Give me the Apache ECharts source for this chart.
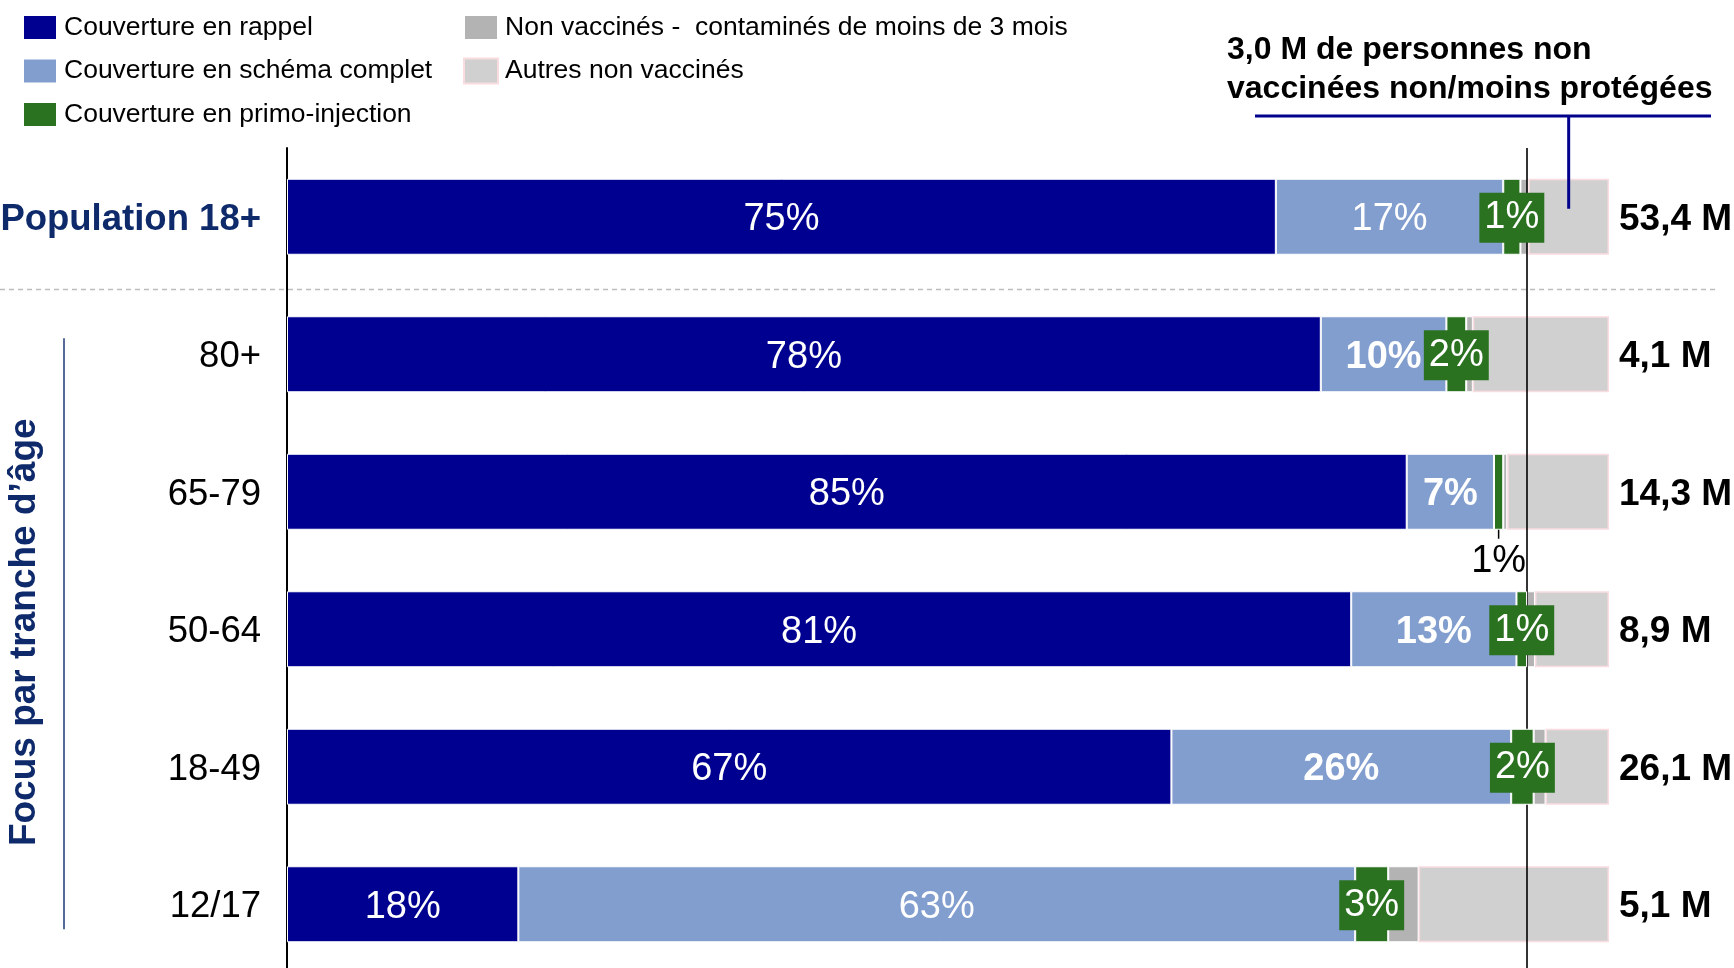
<!DOCTYPE html>
<html>
<head>
<meta charset="utf-8">
<script src="https://cdn.jsdelivr.net/npm/echarts@6/dist/echarts.min.js"></script>
<style>
html,body{margin:0;padding:0;background:#fff;}
#chart{width:1734px;height:968px;}
</style>
</head>
<body>
<div id="chart"></div>
<script>
// ---- data ----
var categories = ['Population 18+', '80+', '65-79', '50-64', '18-49', '12/17'];
var totals = ['53,4 M', '4,1 M', '14,3 M', '8,9 M', '26,1 M', '5,1 M'];
var rappel = [74.8, 78.2, 84.7, 80.5, 66.9, 17.5];
var schema = [17.2, 9.5, 6.6, 12.5, 25.7, 63.3];
var primo = [1.3, 1.5, 0.7, 0.8, 1.7, 2.5];
var contamines = [0.6, 0.5, 0.3, 0.6, 0.9, 2.3];
var autres = [6.1, 10.3, 7.7, 5.6, 4.8, 14.4];
var rappelLabels = ['75%', '78%', '85%', '81%', '67%', '18%'];
var schemaLabels = ['17%', '10%', '7%', '13%', '26%', '63%'];
var schemaBold = [false, true, true, true, true, false];
var primoLabels = ['1%', '2%', '1%', '1%', '2%', '3%'];
var primoBelow = [false, false, true, false, false, false];
var thresholdLine = 93.8;
var seriesNames = ['Couverture en rappel', 'Couverture en schéma complet', 'Couverture en primo-injection',
  'Non vaccinés -  contaminés de moins de 3 mois', 'Autres non vaccinés'];

var FONT = '"Liberation Sans", Arial, sans-serif';
var NAVY = '#000090', LBLUE = '#829ECE', GREEN = '#2B7220', DGRAY = '#B3B3B3', LGRAY = '#D0D0D0';
var BARW = 76;
var TXT_DY = 3;

var chart = echarts.init(document.getElementById('chart'));

function mk(arr, fn) { return arr.map(function (v, i) { return fn(v, i); }); }

var legendText = { fontSize: 26.5, color: '#000', fontFamily: FONT, padding: [3, 0, 0, 2] };
var option = {
  animation: false,
  backgroundColor: '#fff',
  textStyle: { fontFamily: FONT },
  legend: [{
    left: 22, top: 14, orient: 'vertical', itemWidth: 34, itemHeight: 25, itemGap: 16.5, padding: 0,
    icon: 'rect', selectedMode: false,
    data: seriesNames.slice(0, 3), textStyle: legendText
  }, {
    left: 463, top: 14, orient: 'vertical', itemWidth: 34, itemHeight: 25, itemGap: 16.5, padding: 0,
    icon: 'rect', selectedMode: false,
    data: seriesNames.slice(3), textStyle: legendText
  }],
  grid: { left: 287, right: 125, top: 148, height: 825, containLabel: false, outerBoundsMode: 'none' },
  xAxis: { type: 'value', min: 0, max: 100, show: false },
  yAxis: {
    type: 'category', inverse: true, data: categories,
    axisLine: { show: true, lineStyle: { color: '#000', width: 2 } },
    axisTick: { show: false },
    axisLabel: {
      margin: 26, fontSize: 36.5, color: '#000', fontFamily: FONT, padding: [TXT_DY * 2, 0, 0, 0],
      formatter: function (v, i) { return i === 0 ? '{b|' + v + '}' : v; },
      rich: { b: { fontSize: 36.5, fontWeight: 'bold', color: '#0E2A6B', fontFamily: FONT } }
    },
    splitLine: { show: false }
  },
  series: [{
    name: seriesNames[0], type: 'bar', stack: 's', barWidth: BARW,
    itemStyle: { color: NAVY, borderColor: '#fff', borderWidth: 1 },
    label: { show: true, position: 'inside', offset: [0, TXT_DY], color: '#fff', fontSize: 38, fontFamily: FONT,
      formatter: function (p) { return rappelLabels[p.dataIndex]; } },
    data: rappel
  }, {
    name: seriesNames[1], type: 'bar', stack: 's', barWidth: BARW,
    itemStyle: { color: LBLUE, borderColor: '#fff', borderWidth: 1 },
    label: { show: true, position: 'inside', offset: [0, TXT_DY], color: '#fff', fontSize: 38, fontFamily: FONT,
      formatter: function (p) { return schemaLabels[p.dataIndex]; } },
    data: mk(schema, function (v, i) {
      return { value: v, label: { fontWeight: schemaBold[i] ? 'bold' : 'normal' } };
    })
  }, {
    name: seriesNames[2], type: 'bar', stack: 's', barWidth: BARW, z: 5,
    itemStyle: { color: GREEN, borderColor: '#fff', borderWidth: 1 },
    label: { show: true, position: 'inside', offset: [0, 1], color: '#fff', fontSize: 38, fontFamily: FONT,
      backgroundColor: GREEN, padding: [8, 5, 4, 5],
      formatter: function (p) { return primoLabels[p.dataIndex]; } },
    data: mk(primo, function (v, i) {
      if (primoBelow[i]) {
        return { value: v, label: { position: 'bottom', distance: 13, offset: [0, 0], color: '#000', backgroundColor: 'transparent', padding: 0 } };
      }
      return v;
    })
  }, {
    name: seriesNames[3], type: 'bar', stack: 's', barWidth: BARW,
    itemStyle: { color: DGRAY, borderColor: '#fff', borderWidth: 1 },
    data: contamines
  }, {
    name: seriesNames[4], type: 'bar', stack: 's', barWidth: BARW,
    itemStyle: { color: LGRAY, borderColor: '#F9DCE0', borderWidth: 1.5 },
    label: { show: true, position: 'right', distance: 10, offset: [0, TXT_DY], color: '#000', fontSize: 37, fontWeight: 'bold', fontFamily: FONT,
      formatter: function (p) { return totals[p.dataIndex]; } },
    markLine: {
      silent: true, symbol: ['none', 'none'], label: { show: false },
      lineStyle: { color: '#000', width: 1.6, type: 'solid' },
      data: [{ xAxis: thresholdLine }]
    },
    data: autres
  }]
};
chart.setOption(option);

// ---- annotations positioned through the chart's scales ----
function px(x, yi) { return chart.convertToPixel({ gridIndex: 0 }, [x, yi]); }
var row0 = px(0, 0), row1 = px(0, 1), rowLast = px(0, categories.length - 1);
var sepY = (row0[1] + row1[1]) / 2 + 4;
var cum0 = rappel[0] + schema[0] + primo[0] + contamines[0];
var bracketX = px(cum0 + autres[0] / 2, 0)[0];
var g = [];
g.push({ type: 'line', shape: { x1: 0, y1: sepY, x2: 1716, y2: sepY }, style: { stroke: '#BDBDBD', lineWidth: 1.5, lineDash: [5, 4] } });
g.push({ type: 'line', shape: { x1: 1255, y1: 116, x2: 1711, y2: 116 }, style: { stroke: '#00008B', lineWidth: 3 } });
g.push({ type: 'line', shape: { x1: bracketX, y1: 116, x2: bracketX, y2: row0[1] - 8 }, style: { stroke: '#00008B', lineWidth: 3 }, z: 10 });
g.push({ type: 'text', left: 1227, top: 31, style: { text: '3,0 M de personnes non\nvaccinées non/moins protégées', font: 'bold 32px ' + FONT, fill: '#000', lineHeight: 39 } });
g.push({ type: 'line', shape: { x1: 64, y1: row1[1] - 16, x2: 64, y2: rowLast[1] + 25 }, style: { stroke: '#1F3A7A', lineWidth: 1.5 } });
g.push({ type: 'text', x: 25, y: (row1[1] + rowLast[1]) / 2 + 3, rotation: Math.PI / 2,
  style: { text: 'Focus par tranche d\u2019âge', font: 'bold 37px ' + FONT, fill: '#0E2A6B', textAlign: 'center', textVerticalAlign: 'middle' } });
primoBelow.forEach(function (b, i) {
  if (!b) return;
  var base = rappel[i] + schema[i];
  var p = px(base + primo[i] / 2, i);
  g.push({ type: 'line', shape: { x1: p[0], y1: p[1] + BARW / 2, x2: p[0], y2: p[1] + BARW / 2 + 9 }, style: { stroke: '#000', lineWidth: 1.5 }, z: 10 });
});
chart.setOption({ graphic: g });
</script>
</body>
</html>
